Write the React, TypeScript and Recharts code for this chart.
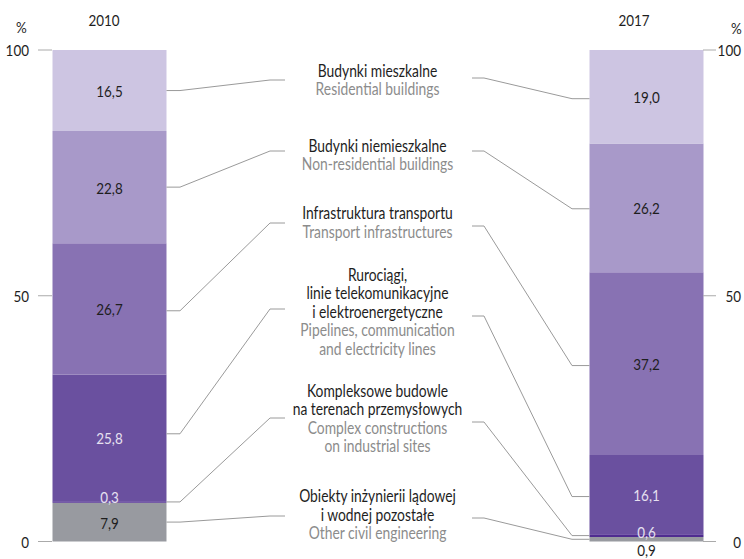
import { ComposedChart, Bar, Line, XAxis, YAxis, LabelList } from 'recharts'

const years = [2010, 2017]
const otherCivil = [7.9, 0.9]
const complexSites = [0.3, 0.6]
const pipelines = [25.8, 16.1]
const transport = [26.7, 37.2]
const nonResidential = [22.8, 26.2]
const residential = [16.5, 19.0]
const yTicks = [0, 50, 100]

const chartData = years.map((year, i) => ({
  year,
  otherCivil: otherCivil[i],
  complexSites: complexSites[i],
  pipelines: pipelines[i],
  transport: transport[i],
  nonResidential: nonResidential[i],
  residential: residential[i],
}))

const FONT = "Lato, 'DejaVu Sans', sans-serif"
const DARK = '#1e1e1e'
const LIGHT = '#e6e0f0'
const LINE = '#9a9a9a'
const SX = 0.84 // horizontal squeeze to mimic the condensed face

// bottom to top
const series = [
  { key: 'otherCivil', color: '#989aa0', text: [DARK, DARK], pl: ['Obiekty inżynierii lądowej', 'i wodnej pozostałe'], en: ['Other civil engineering'], top: 502, yl: 516, yr: 518 },
  { key: 'complexSites', color: '#4f2c90', text: [LIGHT, LIGHT], pl: ['Kompleksowe budowle', 'na terenach przemysłowych'], en: ['Complex constructions', 'on industrial sites'], top: 396.7, yl: 418, yr: 422 },
  { key: 'pipelines', color: '#6a509f', text: [LIGHT, LIGHT], pl: ['Rurociągi,', 'linie telekomunikacyjne', 'i elektroenergetyczne'], en: ['Pipelines, communication', 'and electricity lines'], top: 280.5, yl: 309, yr: 316 },
  { key: 'transport', color: '#8872b3', text: [DARK, DARK], pl: ['Infrastruktura transportu'], en: ['Transport infrastructures'], top: 219.3, yl: 223, yr: 226 },
  { key: 'nonResidential', color: '#a899c9', text: [DARK, DARK], pl: ['Budynki niemieszkalne'], en: ['Non-residential buildings'], top: 151.7, yl: 151, yr: 151 },
  { key: 'residential', color: '#cdc5e2', text: [DARK, DARK], pl: ['Budynki mieszkalne'], en: ['Residential buildings'], top: 76.7, yl: 80, yr: 78 },
]

// small nudges for value labels / connector ends (px)
const labelDy: Record<string, number[]> = { complexSites: [-5, -4], otherCivil: [0, 10.5] }
const lineDy: Record<string, number[]> = { pipelines: [-4, 2], transport: [2, 2], residential: [0, 2], nonResidential: [0, 1] }

const fmt = (v: number) => v.toFixed(1).replace('.', ',')

function CText({ x, y, children, fill = DARK, size = 16, anchor = 'middle', central = false }: any) {
  return (
    <text
      transform={`translate(${x},${y}) scale(${SX},1)`}
      textAnchor={anchor}
      dominantBaseline={central ? 'central' : 'auto'}
      fontSize={size}
      fontFamily={FONT}
      fill={fill}
    >
      {children}
    </text>
  )
}

function makeLabel(s: (typeof series)[number]) {
  return (props: any) => {
    const vb = props.viewBox || {}
    const x = Number(props.x ?? vb.x)
    const y = Number(props.y ?? vb.y)
    const w = Number(props.width ?? vb.width)
    const h = Number(props.height ?? vb.height)
    const side = x < 372 ? 0 : 1
    const mid = y + h / 2
    const ty = mid + (labelDy[s.key]?.[side] ?? 0)
    const ly = mid + (lineDy[s.key]?.[side] ?? 0)
    const path =
      side === 0
        ? `M${x + w},${ly} H180 L270,${s.yl} H285`
        : `M${x},${ly} H572 L484,${s.yr} H472`
    return (
      <g>
        <path d={path} fill="none" stroke={LINE} strokeWidth={1} />
        <CText x={x + w / 2} y={ty} size={16} central fill={s.text[side]}>
          {fmt(Number(props.value))}
        </CText>
      </g>
    )
  }
}

const leftTick = (props: any) => (
  <CText x={29} y={props.y} anchor="end" central>
    {props.payload.value}
  </CText>
)
const rightTick = (props: any) => (
  <CText x={741} y={props.y} anchor="end" central>
    {props.payload.value}
  </CText>
)

export default function App() {
  return (
    <div style={{ position: 'absolute', left: 0, top: 0, width: 744, height: 559, background: '#fff' }}>
      <ComposedChart width={744} height={559} data={chartData} margin={{ top: 50, right: 0, bottom: 17.5, left: 0 }}>
        <XAxis dataKey="year" type="number" domain={[2009.257, 2017.743]} hide />
        <YAxis yAxisId="left" width={52} domain={[0, 100]} ticks={yTicks} axisLine={false} tickSize={14} tickLine={{ stroke: '#aaa' }} tick={leftTick} />
        <YAxis yAxisId="right" orientation="right" width={41} domain={[0, 100]} ticks={yTicks} axisLine={false} tickSize={13} tickLine={{ stroke: '#aaa' }} tick={rightTick} />
        {series.map((s) => (
          <Bar key={s.key} yAxisId="left" dataKey={s.key} stackId="a" fill={s.color} barSize={114} isAnimationActive={false}>
            <LabelList dataKey={s.key} content={makeLabel(s)} />
          </Bar>
        ))}
        {/* invisible series so the right-hand axis gets drawn */}
        <Line yAxisId="right" dataKey="residential" stroke="none" dot={false} activeDot={false} isAnimationActive={false} />
      </ComposedChart>
      <svg width={744} height={559} style={{ position: 'absolute', left: 0, top: 0, pointerEvents: 'none' }}>
        <CText x={21.5} y={26.5} central>%</CText>
        <CText x={736.5} y={28} central>%</CText>
        <CText x={104} y={20} central>{years[0]}</CText>
        <CText x={634} y={19.5} central>{years[1]}</CText>
        {series.map((s) =>
          [...s.pl.map((t) => ({ t, c: DARK })), ...s.en.map((t) => ({ t, c: '#8c8c8c' }))].map((ln, i) => (
            <CText key={s.key + i} x={377.5} y={s.top + i * 18.5} size={16.5} fill={ln.c}>
              {ln.t}
            </CText>
          ))
        )}
      </svg>
    </div>
  )
}
